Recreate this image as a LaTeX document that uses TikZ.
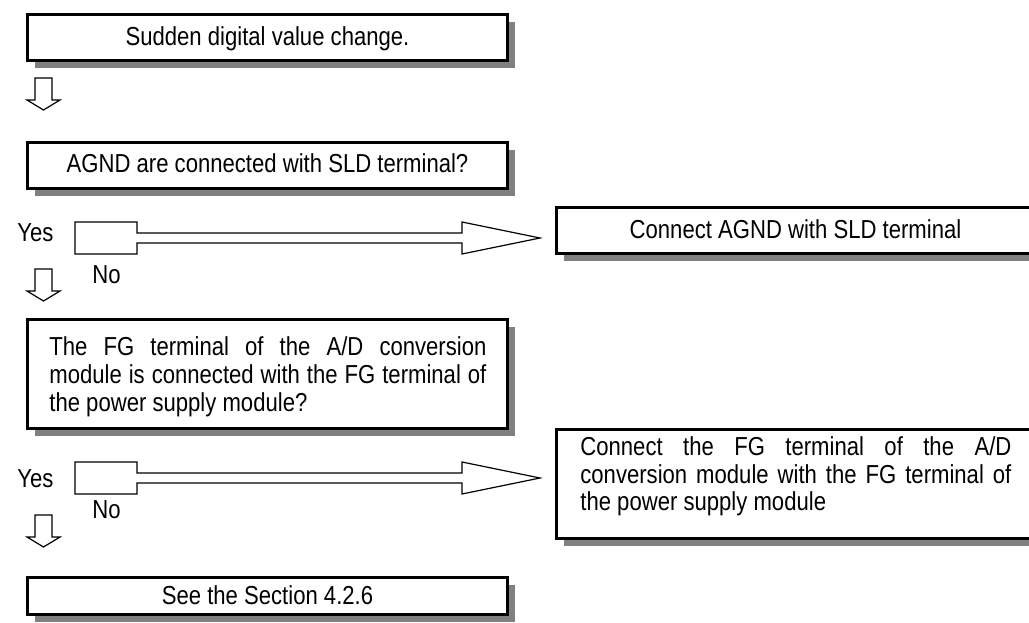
\documentclass[tikz,border=0pt]{standalone}
\usepackage{fontspec}
\setmainfont{Liberation Sans}[FakeStretch=0.85]
\usetikzlibrary{shadows}
\definecolor{shadowgray}{RGB}{128,128,128}
\begin{document}
\begin{tikzpicture}[x=0.5pt,y=-0.5pt,
  box/.style={draw=black, line width=1.6pt, fill=white, inner sep=0pt,
    drop shadow={shadow xshift=3.5pt, shadow yshift=-3.5pt, fill=shadowgray, opacity=1}},
  leftbox/.style={box, minimum width=240pt},
  rightbox/.style={box, minimum width=239pt},
  txt/.style={inner sep=0pt, font=\fontsize{13pt}{14pt}\selectfont},
  fat/.style={draw=black, line width=0.6pt, fill=white, line join=miter},
  downarrow/.pic={\draw[fat] (-8.5,0) -- (8.5,0) -- (8.5,22) -- (16.5,22) -- (0,32) -- (-16.5,22) -- (-8.5,22) -- cycle;}
]
\useasboundingbox (0,0) rectangle (1029,622);
\clip (0,0) rectangle (1029,622);
\fill[white] (0,0) rectangle (1029,622);

% boxes
\node[leftbox, minimum height=23pt] (b1) at (267.5,37.5) {};
\node[txt, anchor=base] (t1) at (267.5,45) {Sudden digital value change.};

\pic at (43.5,78) {downarrow};

\node[leftbox, minimum height=23pt] (b2) at (267.5,165.5) {};
\node[txt, anchor=base] (t2) at (267.5,172) {AGND are connected with SLD terminal?};

\node[rightbox, minimum height=23pt] (b3) at (795.5,230.5) {};
\node[txt, anchor=base] (t3) at (795.5,238) {Connect AGND with SLD terminal};

% first yes/no arrow
\node[txt, anchor=base west] (yes1) at (17,241) {Yes};
\coordinate (r1) at (75,222);
\draw[fat] (r1) -- ++(62,0) -- ++(0,11) -- ++(325,0) -- ++(0,-11) -- ++(78,16)
  -- ++(-78,16) -- ++(0,-11) -- ++(-325,0) -- ++(0,11) -- ++(-62,0) -- cycle;
\node[txt, anchor=base west] (no1) at (92,283) {No};

\pic at (43.5,269) {downarrow};

\node[leftbox, minimum height=54.5pt] (b4) at (267.5,374) {};
\node[txt, anchor=base west] (t4a) at (49,355) {\makebox[218.5pt][s]{The FG terminal of the A/D conversion}};
\node[txt, anchor=base west] (t4b) at (49,383) {\makebox[218.5pt][s]{module is connected with the FG terminal of}};
\node[txt, anchor=base west] (t4c) at (49,411) {the power supply module?};

\node[rightbox, minimum height=54.5pt] (b5) at (795.5,484) {};
\node[txt, anchor=base west] (t5a) at (580,455) {\makebox[215.5pt][s]{Connect the FG terminal of the A/D}};
\node[txt, anchor=base west] (t5b) at (580,483) {\makebox[215.5pt][s]{conversion module with the FG terminal of}};
\node[txt, anchor=base west] (t5c) at (580,510) {the power supply module};

% second yes/no arrow
\node[txt, anchor=base west] (yes2) at (17,487) {Yes};
\coordinate (r2) at (75,462);
\draw[fat] (r2) -- ++(62,0) -- ++(0,11) -- ++(325,0) -- ++(0,-11) -- ++(78,16)
  -- ++(-78,16) -- ++(0,-11) -- ++(-325,0) -- ++(0,11) -- ++(-62,0) -- cycle;
\node[txt, anchor=base west] (no2) at (92,518) {No};

\pic at (43.5,515) {downarrow};

\node[leftbox, minimum height=18.5pt] (b6) at (267.5,596) {};
\node[txt, anchor=base] (t6) at (267.5,604) {See the Section 4.2.6};
\end{tikzpicture}
\end{document}
